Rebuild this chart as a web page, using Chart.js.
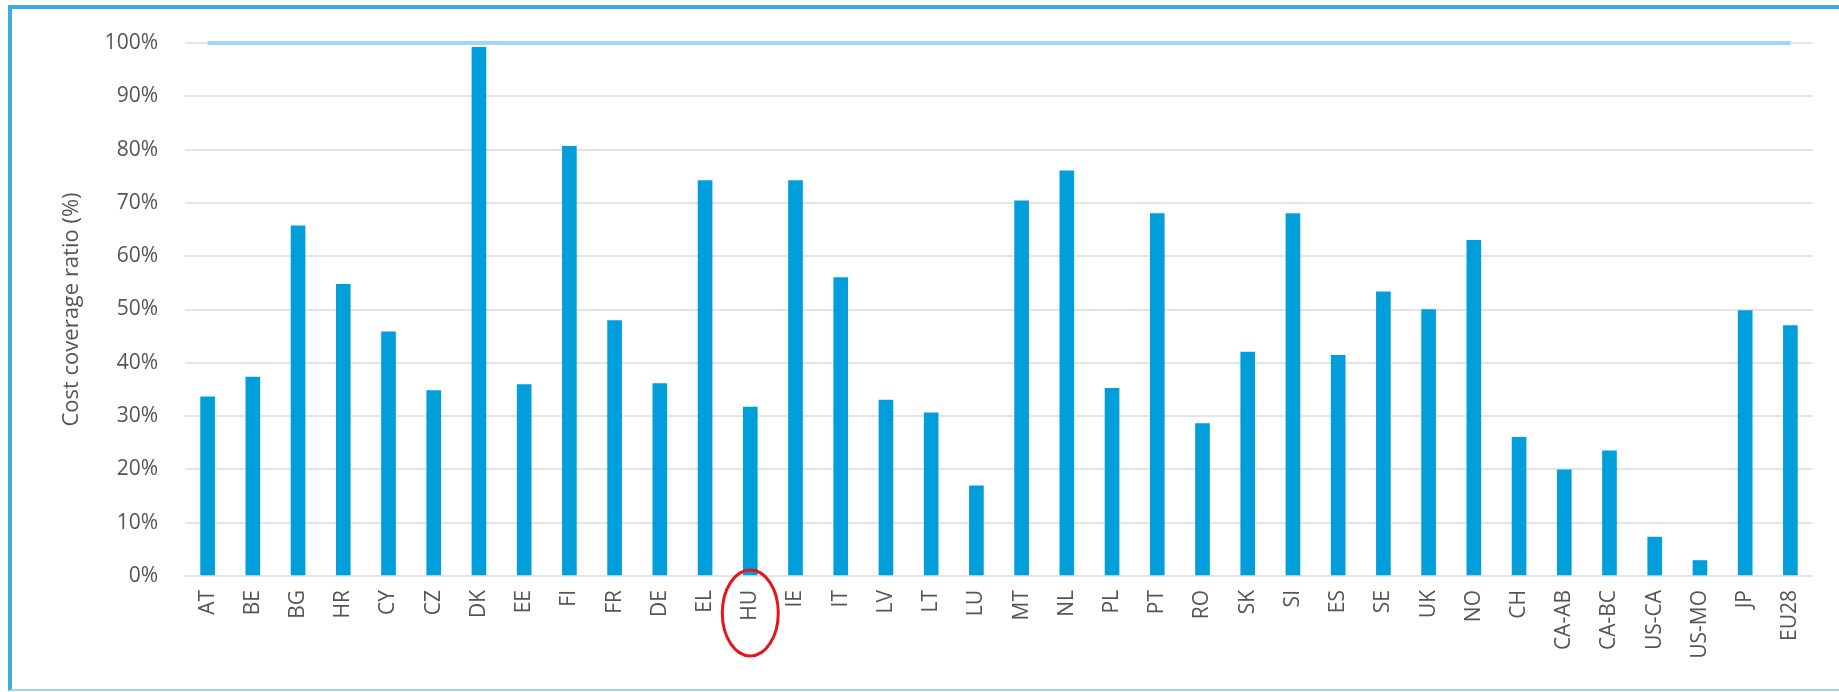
<!DOCTYPE html>
<html>
<head>
<meta charset="utf-8">
<script src="https://cdn.jsdelivr.net/npm/chart.js@4/dist/chart.umd.min.js"></script>
<style>
  html, body { margin: 0; padding: 0; background: #fff; }
  #wrap { position: relative; width: 1839px; height: 692px; overflow: hidden; }
  #frame { position: absolute; left: 8px; top: 5px; width: 1900px; height: 680px;
           border-left: 4px solid #3aaee2; border-top: 4px solid #3aaee2; border-bottom: 2px solid #9fd4ee; }
  canvas { position: absolute; left: 0; top: 0; }
</style>
</head>
<body>
<div id="wrap">
  <canvas id="c" width="1839" height="692"></canvas>
  <div id="frame"></div>
</div>
<script>
const categories = ["AT","BE","BG","HR","CY","CZ","DK","EE","FI","FR","DE","EL","HU","IE","IT","LV","LT","LU","MT","NL","PL","PT","RO","SK","SI","ES","SE","UK","NO","CH","CA-AB","CA-BC","US-CA","US-MO","JP","EU28"];
const coverageRatio = [33.6,37.3,65.7,54.7,45.8,34.8,99.2,35.9,80.6,47.9,36.1,74.2,31.7,74.2,56.0,33.0,30.6,16.9,70.4,76.0,35.2,68.0,28.6,42.0,68.0,41.4,53.3,50.0,63.0,26.0,19.9,23.5,7.3,2.9,49.8,47.0];
const fullCoverage = [100,100,100,100,100,100,100,100,100,100,100,100,100,100,100,100,100,100,100,100,100,100,100,100,100,100,100,100,100,100,100,100,100,100,100,100];
const yTicks = [0,10,20,30,40,50,60,70,80,90,100];
const highlighted = "HU";

const FONT = "'Open Sans', 'DejaVu Sans', sans-serif";

const ellipsePlugin = {
  id: 'highlightEllipse',
  afterDraw(chart) {
    const xs = chart.scales.x;
    const idx = categories.indexOf(highlighted);
    if (idx < 0) return;
    const cx = xs.getPixelForValue(idx);
    const cy = chart.chartArea.bottom + 37;
    const ctx = chart.ctx;
    ctx.save();
    ctx.beginPath();
    ctx.ellipse(cx, cy, 28, 43, 0, 0, Math.PI * 2);
    ctx.strokeStyle = '#e3161c';
    ctx.lineWidth = 3;
    ctx.stroke();
    ctx.restore();
  }
};

new Chart(document.getElementById('c'), {
  data: {
    labels: categories,
    datasets: [
      {
        type: 'line',
        data: fullCoverage,
        borderColor: '#9fd8f5',
        borderWidth: 4,
        pointRadius: 0,
        fill: false,
        clip: false,
        order: 0
      },
      {
        type: 'bar',
        data: coverageRatio,
        backgroundColor: '#009fdb',
        barThickness: 14,
        order: 1
      }
    ]
  },
  options: {
    responsive: false,
    animation: false,
    events: [],
    layout: { padding: { left: 40, right: 26, top: 43, bottom: 0 } },
    plugins: { legend: { display: false }, tooltip: { enabled: false } },
    scales: {
      x: {
        offset: true,
        grid: { display: false, drawTicks: false },
        border: { display: false },
        ticks: {
          autoSkip: false,
          minRotation: 90,
          maxRotation: 90,
          padding: 14,
          color: '#555555',
          font: { family: FONT, size: 21 }
        },
        afterFit(s) { s.height = 116; }
      },
      y: {
        min: 0,
        max: 100,
        afterBuildTicks(s) { s.ticks = yTicks.map(v => ({ value: v })); },
        grid: { color: '#e4e4e4', lineWidth: 2, drawTicks: false },
        border: { display: false },
        ticks: {
          padding: 27,
          color: '#555555',
          font: { family: FONT, size: 21 },
          callback: v => v + '%'
        },
        title: {
          display: true,
          text: 'Cost coverage ratio (%)',
          color: '#555555',
          font: { family: FONT, size: 22 },
          padding: { top: 19, bottom: 0 }
        },
        afterFit(s) { s.width = 145; }
      }
    }
  },
  plugins: [ellipsePlugin]
});
</script>
</body>
</html>
